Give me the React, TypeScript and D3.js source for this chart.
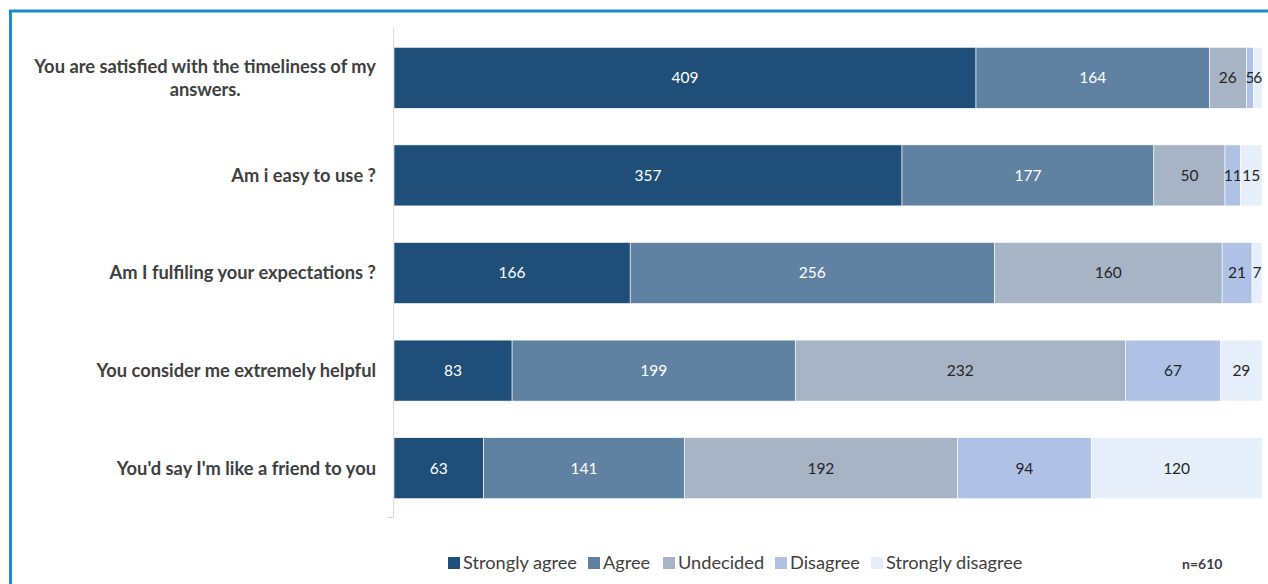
import React, { useEffect, useRef } from "react";
import * as d3 from "d3";

const categories = [
  "You are satisfied with the timeliness of my answers.",
  "Am i easy to use ?",
  "Am I fulfiling your expectations ?",
  "You consider me extremely helpful",
  "You'd say I'm like a friend to you",
];
const categoryLines = [
  ["You are satisfied with the timeliness of my", "answers."],
  ["Am i easy to use ?"],
  ["Am I fulfiling your expectations ?"],
  ["You consider me extremely helpful"],
  ["You'd say I'm like a friend to you"],
];
const seriesNames = ["Strongly agree", "Agree", "Undecided", "Disagree", "Strongly disagree"];
const stronglyAgree = [409, 357, 166, 83, 63];
const agree = [164, 177, 256, 199, 141];
const undecided = [26, 50, 160, 232, 192];
const disagree = [5, 11, 21, 67, 94];
const stronglyDisagree = [6, 15, 7, 29, 120];
const seriesColors = ["#1F4E79", "#5F82A2", "#A7B4C5", "#AFC2E5", "#E5EEF9"];
const labelColors = ["#FFFFFF", "#FFFFFF", "#262626", "#262626", "#262626"];
const totalN = "n=610";

const FONT = "Lato, 'Open Sans', sans-serif";

export default function App() {
  const ref = useRef<SVGSVGElement | null>(null);

  useEffect(() => {
    const svg = d3.select(ref.current);
    svg.selectAll("*").remove();
    const W = 1268, H = 584;

    // border
    svg.append("rect").attr("x", 10.5).attr("y", 11).attr("width", W + 20).attr("height", H + 20)
      .attr("fill", "#fff").attr("stroke", "#1B8DCA").attr("stroke-width", 3);

    const values = [stronglyAgree, agree, undecided, disagree, stronglyDisagree];
    const rows = categories.map((c, i) => {
      const o: any = { cat: c, idx: i };
      seriesNames.forEach((s, j) => (o[s] = values[j][i]));
      return o;
    });
    const stack = d3.stack<any>().keys(seriesNames)(rows);

    const y = d3.scaleBand<string>().domain(categories).range([29, 517]).paddingInner(0.375).paddingOuter(0.1875);
    const x = d3.scaleLinear().domain([0, 610]).range([394, 1262]);

    // axis line
    svg.append("line").attr("x1", 393.5).attr("x2", 393.5).attr("y1", 29).attr("y2", 517.5)
      .attr("stroke", "#D9D9D9").attr("stroke-width", 1);
    svg.append("line").attr("x1", 387).attr("x2", 393.5).attr("y1", 517.5).attr("y2", 517.5)
      .attr("stroke", "#D9D9D9").attr("stroke-width", 1);

    stack.forEach((layer, j) => {
      const g = svg.append("g");
      g.selectAll("rect").data(layer).enter().append("rect")
        .attr("x", (d) => x(d[0]))
        .attr("y", (d) => y(d.data.cat)!)
        .attr("width", (d) => x(d[1]) - x(d[0]))
        .attr("height", y.bandwidth())
        .attr("fill", seriesColors[j])
        .attr("stroke", "#FFFFFF").attr("stroke-width", 0.6);
      g.selectAll("text").data(layer).enter().append("text")
        .attr("x", (d) => (x(d[0]) + x(d[1])) / 2)
        .attr("y", (d) => y(d.data.cat)! + y.bandwidth() / 2)
        .attr("dy", "0.35em")
        .attr("text-anchor", "middle")
        .attr("font-family", FONT).attr("font-size", 15.5)
        .attr("fill", labelColors[j])
        .text((d) => String(d[1] - d[0]));
    });

    // category labels
    const LFS = 18.3;
    categoryLines.forEach((lines, i) => {
      const cy = y(categories[i])! + y.bandwidth() / 2;
      if (lines.length === 1) {
        svg.append("text").attr("x", 376).attr("y", cy).attr("dy", "0.35em")
          .attr("text-anchor", "end").attr("font-family", FONT).attr("font-weight", "bold")
          .attr("font-size", LFS).attr("fill", "#404040").text(lines[0]);
      } else {
        const t1 = svg.append("text").attr("x", 376).attr("y", cy - 11).attr("dy", "0.35em")
          .attr("text-anchor", "end").attr("font-family", FONT).attr("font-weight", "bold")
          .attr("font-size", LFS).attr("fill", "#404040").text(lines[0]);
        const w = (t1.node() as SVGTextElement).getComputedTextLength();
        svg.append("text").attr("x", 376 - w / 2).attr("y", cy + 12).attr("dy", "0.35em")
          .attr("text-anchor", "middle").attr("font-family", FONT).attr("font-weight", "bold")
          .attr("font-size", LFS).attr("fill", "#404040").text(lines[1]);
      }
    });

    // legend
    const legendX = [448, 588, 663, 775, 871];
    seriesNames.forEach((s, j) => {
      svg.append("rect").attr("x", legendX[j]).attr("y", 557).attr("width", 12).attr("height", 12)
        .attr("fill", seriesColors[j]);
      svg.append("text").attr("x", legendX[j] + 15).attr("y", 563).attr("dy", "0.35em")
        .attr("font-family", FONT).attr("font-size", 18.2).attr("fill", "#404040").text(s);
    });

    svg.append("text").attr("x", 1182).attr("y", 564).attr("dy", "0.35em")
      .attr("font-family", FONT).attr("font-weight", "bold").attr("font-size", 14)
      .attr("fill", "#404040").text(totalN);
  }, []);

  return (
    <svg ref={ref} width={1268} height={584}
      style={{ position: "absolute", left: 0, top: 0, display: "block", overflow: "hidden" }} />
  );
}
